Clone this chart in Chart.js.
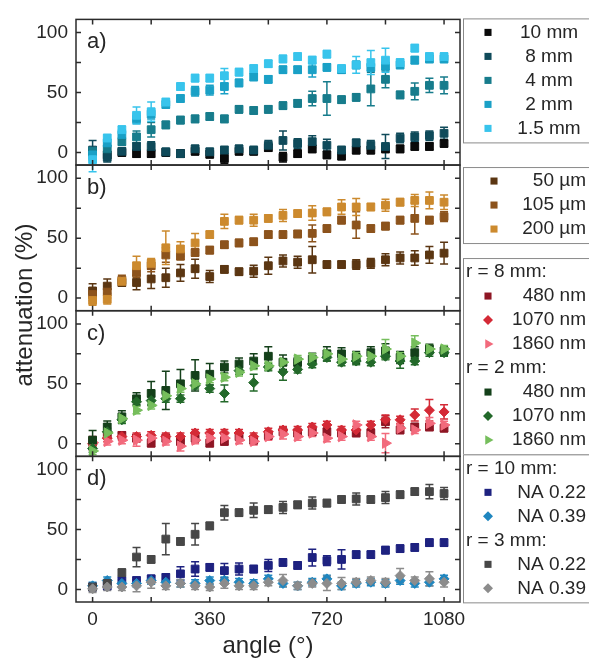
<!DOCTYPE html>
<html>
<head>
<meta charset="utf-8">
<title>attenuation vs angle</title>
<script src="https://cdn.jsdelivr.net/npm/chart.js"></script>
<style>
  body { margin: 0; background: #fff; }
</style>
</head>
<body>
<canvas id="myChart" width="589" height="658"></canvas>
<script>
// rotation angles (degrees)
const angles = [0, 45, 90, 135, 180, 225, 270, 315, 360, 405, 450, 495, 540,
                585, 630, 675, 720, 765, 810, 855, 900, 945, 990, 1035, 1080];
const xTickLabels = [0, 360, 720, 1080];
const xMinorTicks = [0, 180, 360, 540, 720, 900, 1080];
const yTickValues = [0, 25, 50, 75, 100];
const yLabelValues = [0, 50, 100];
const panelLetters = ['a)', 'b)', 'c)', 'd)'];

// a) bending radius
const radiusLabels = ['10 mm', '8 mm', '4 mm', '2 mm', '1.5 mm'];
const a10mm  = [0, -2, 0, -1, -1, 0, -1, 1, -1.5, -5, 1, 1, 4, -4, -1, 3, -2, -3, 2, 2, 3, 3, 5, 5, 7.5];
const a8mm   = [2, -4, 1, 5, 5, 0.5, -1, 3, 0.5, 2, 3, 2, 6, 10, 7.5, 9, 6, 2, 8, 6, 5, 12, 13, 14, 16];
const a4mm   = [1, 3, 9, 13, 19, 23, 27, 28, 30, 28, 36, 35, 36, 39, 41, 45, 45, 44, 46, 53, 61, 48, 51, 56, 56];
const a2mm   = [-2, 8, 15, 28, 32, 40, 45, 51, 52, 55, 58, 63, 61, 69, 69, 69, 71, 69, 73, 71, 72, 73, 77, 78, 78];
const a1_5mm = [-6, 12, 19, 31, 34, 42, 55, 62, 62, 64, 67, 70, 74, 78, 80, 77, 82, 70, 73, 75, 77, 75, 87, 80, 80];
const e10mm  = [3, 3, 3, 3, 3, 3, 3, 3, 3, 4, 3, 3, 3, 4, 3, 3, 3, 3, 3, 3, 3, 3, 3, 3, 3];
const e8mm   = [8, 4, 3, 3, 4, 3, 3, 3, 3, 3, 3, 3, 4, 8, 4, 5, 5, 3, 3, 4, 10, 4, 4, 4, 5];
const e4mm   = [3, 3, 3, 5, 6, 3, 3, 3, 3, 3, 3, 3, 3, 3, 3, 6, 14, 3, 3, 14, 7, 3, 7, 6, 7];
const e2mm   = [3, 3, 4, 4, 4, 3, 3, 4, 4, 6, 3, 3, 3, 3, 3, 6, 3, 3, 3, 3, 3, 3, 3, 3, 3];
const e1_5mm = [10, 3, 3, 7, 8, 3, 3, 3, 3, 6, 3, 3, 3, 3, 3, 3, 3, 3, 7, 10, 10, 3, 3, 3, 3];

// b) fibre diameter
const diameterLabels = ['50 µm', '105 µm', '200 µm'];
const b50  = [6, 10, 13, 13, 16, 17, 21, 24.5, 18, 24, 22, 22.5, 27, 31, 30, 32, 28, 28, 28, 29, 32, 33.5, 33.5, 36, 37.5];
const b105 = [3, 5, 15, 21, 27, 36, 35, 38, 40, 44.5, 46, 47, 53, 53, 53.5, 54, 58, 65, 61, 58, 60, 65, 66.5, 65, 68];
const b200 = [-2, -1, 14, 27, 29, 42, 41, 46, 53, 64, 65, 65, 66.5, 69, 70.5, 71, 72, 76, 76, 76, 77.5, 80, 81.5, 81.5, 80];
const e50  = [6, 6, 3, 6, 8, 8, 7, 8, 5, 3, 3, 5, 7, 5, 5, 11, 3, 3, 4, 4, 5, 5, 6, 7, 9];
const e105 = [5, 5, 4, 4, 5, 6, 3, 3, 3, 3, 3, 3, 3, 3, 3, 7, 3, 3, 11, 3, 3, 3, 13, 3, 4];
const e200 = [4, 4, 3, 8, 4, 14, 6, 8, 3, 6, 3, 5, 3, 5, 3, 6, 3, 6, 7, 3, 5, 3, 5, 7, 6];

// c) wavelength
const cHeads = ['r = 8 mm:', 'r = 2 mm:'];
const wavelengthLabels = ['480 nm', '1070 nm', '1860 nm'];
const c8_480  = [2, 7, 7, 4.7, 0.5, 4.7, 2, 4.7, 0.5, 2, 6, 3, 7, 10, 9, 10, 10, 9, 9, 9, 18.4, 11.5, 14, 14, 13];
const c8_1070 = [0, 4.7, 6, 6, 7, 6, 6, 9, 9, 9, 9, 6, 10, 11.5, 11.5, 14, 15.7, 11.5, 11.5, 15.7, 20, 20, 24, 28, 26.6];
const c8_1860 = [1, 2, 3, 3, 4.7, 2, -2, 3, 4.7, 4.7, 3, 2, 6, 8, 6, 9, 4.7, 6, 15.7, 6, 0.5, 13, 11.5, 17, 15.7];
const c2_480  = [3, 14, 22.5, 37.5, 42, 44.5, 50, 57, 58, 64, 66.5, 69, 73, 68, 68, 70.6, 75, 75, 72, 76, 77.5, 72, 76, 79, 77.5];
const c2_1070 = [-4, 10, 20, 35, 36, 37.6, 37.6, 48.6, 46, 42, 61, 51, 64, 60, 62, 66.5, 72, 68, 69, 68, 73, 69, 69, 76, 76];
const c2_1860 = [-6, 9, 21, 28, 32, 40, 46, 50, 54, 55.5, 59.6, 65, 65, 68, 70.6, 72, 75, 70.6, 73, 73, 79, 73, 84, 79, 79];
const e8_480  = [4, 3, 3, 3, 3, 3, 3, 3, 3, 3, 3, 3, 3, 3, 3, 3, 3, 3, 3, 3, 5, 3, 3, 3, 3];
const e8_1070 = [5, 3, 3, 3, 3, 3, 3, 3, 3, 3, 3, 3, 3, 3, 3, 3, 3, 3, 3, 3, 4, 3, 5, 9, 6];
const e8_1860 = [3, 3, 3, 5, 3, 3, 4, 3, 3, 3, 3, 3, 3, 4, 3, 3, 3, 3, 3, 3, 8, 3, 3, 5, 3];
const e2_480  = [8, 5, 5, 5, 10, 16, 12, 13, 9, 5, 5, 6, 8, 6, 4, 5, 6, 5, 5, 5, 6, 5, 5, 4, 4];
const e2_1070 = [3, 3, 3, 3, 3, 3, 3, 3, 3, 7, 3, 7, 3, 7, 3, 3, 3, 3, 3, 3, 3, 6, 3, 3, 3];
const e2_1860 = [3, 3, 3, 3, 3, 3, 3, 3, 3, 3, 3, 3, 3, 3, 3, 3, 3, 3, 3, 3, 8, 3, 6, 3, 3];

// d) numerical aperture
const dHeads = ['r = 10 mm:', 'r = 3 mm:'];
const apertureLabels = ['NA 0.22', 'NA 0.39'];
const d10_022 = [2, 3, 7.4, 7.4, 8.8, 10, 13, 17, 18.4, 15.7, 17, 17, 20, 22.5, 20, 26.6, 24, 25, 29, 29, 32.7, 34, 35, 39, 39];
const d10_039 = [3, 7.4, 5, 5, 7.4, 6, 5, 5, 7.4, 7.4, 6, 5, 8.8, 5, 3, 6, 8.8, 3, 5, 6, 5, 7.4, 5, 6, 8.8];
const d3_022  = [2, 5, 14, 27, 25, 42, 40, 46, 53, 64, 64, 66, 66.5, 68.4, 70.6, 72, 72, 75, 75.5, 75, 76.6, 79, 81.6, 81.6, 80];
const d3_039  = [0.5, 2, 2, 3, 6, 3, 5, 3, 2, 5, 3, 3, 6, 7.4, 3, 5, 5, 5, 6, 7.4, 6, 11.5, 7.4, 8.8, 6];
const ed10_022 = [3, 3, 3, 3, 3, 3, 6, 6, 3, 6, 5, 3, 5, 3, 3, 7, 4, 8, 3, 3, 3, 3, 3, 3, 3];
const ed10_039 = [3, 3, 3, 3, 3, 3, 3, 3, 3, 3, 3, 3, 3, 3, 3, 3, 3, 3, 3, 3, 3, 3, 3, 3, 3];
const ed3_022  = [3, 3, 3, 8, 3, 13, 3, 9, 3, 6, 3, 6, 3, 5, 3, 5, 3, 3, 5, 3, 5, 3, 3, 6, 5];
const ed3_039  = [3, 3, 3, 5, 5, 3, 3, 3, 3, 4, 3, 3, 3, 5, 3, 3, 6, 5, 3, 3, 3, 6, 3, 6, 4];

const FONT = '"Liberation Sans", Arial, sans-serif';
const TEXT = '#262626';
Chart.defaults.font.family = FONT;

const styles = {
  square:   {pointStyle: 'rect', pointRadius: 5.5, pointRotation: 0, legendRadius: 5},
  diamond:  {pointStyle: 'rectRot', pointRadius: 5, pointRotation: 0, legendRadius: 5},
  triangle: {pointStyle: 'triangle', pointRadius: 6, pointRotation: 90, legendRadius: 5.5}
};

function series(label, values, errors, color, axis, shape, box, heading) {
  const st = styles[shape];
  return {
    label: label,
    data: angles.map((a, i) => ({x: a, y: values[i]})),
    errors: errors,
    yAxisID: axis,
    backgroundColor: color,
    borderColor: color,
    pointStyle: st.pointStyle,
    pointRadius: st.pointRadius,
    pointRotation: st.pointRotation,
    pointBorderWidth: 1,
    legendRadius: st.legendRadius,
    legendBox: box,
    heading: heading || null,
    showLine: false
  };
}

const datasets = [
  series(radiusLabels[0], a10mm, e10mm, '#0a0a0a', 'ya', 'square', 0),
  series(radiusLabels[1], a8mm, e8mm, '#0f4a5a', 'ya', 'square', 0),
  series(radiusLabels[2], a4mm, e4mm, '#177c8c', 'ya', 'square', 0),
  series(radiusLabels[3], a2mm, e2mm, '#1aa0c6', 'ya', 'square', 0),
  series(radiusLabels[4], a1_5mm, e1_5mm, '#38c4ec', 'ya', 'square', 0),

  series(diameterLabels[0], b50, e50, '#5b3612', 'yb', 'square', 1),
  series(diameterLabels[1], b105, e105, '#8c531c', 'yb', 'square', 1),
  series(diameterLabels[2], b200, e200, '#cc8a2e', 'yb', 'square', 1),

  series(wavelengthLabels[0], c8_480, e8_480, '#8e1624', 'yc', 'square', 2, cHeads[0]),
  series(wavelengthLabels[1], c8_1070, e8_1070, '#d42a36', 'yc', 'diamond', 2),
  series(wavelengthLabels[2], c8_1860, e8_1860, '#f26a7c', 'yc', 'triangle', 2),
  series(wavelengthLabels[0], c2_480, e2_480, '#14401a', 'yc', 'square', 2, cHeads[1]),
  series(wavelengthLabels[1], c2_1070, e2_1070, '#23692a', 'yc', 'diamond', 2),
  series(wavelengthLabels[2], c2_1860, e2_1860, '#76be5c', 'yc', 'triangle', 2),

  series(apertureLabels[0], d10_022, ed10_022, '#1e2280', 'yd', 'square', 3, dHeads[0]),
  series(apertureLabels[1], d10_039, ed10_039, '#1f86bf', 'yd', 'diamond', 3),
  series(apertureLabels[0], d3_022, ed3_022, '#474747', 'yd', 'square', 3, dHeads[1]),
  series(apertureLabels[1], d3_039, ed3_039, '#8c8c8c', 'yd', 'diamond', 3)
];
// later series are drawn on top
datasets.forEach((ds, i) => { ds.order = -i; });

const panelIds = ['ya', 'yb', 'yc', 'yd'];

function panelScale() {
  return {
    type: 'linear', position: 'left', stack: 'panels', stackWeight: 1,
    min: -10.5, max: 111,
    afterBuildTicks: s => { s.ticks = yTickValues.map(v => ({value: v})); },
    afterFit: s => { s.width = 76; },
    grid: {display: false, drawTicks: false},
    border: {display: false},
    ticks: {
      font: {size: 19}, color: TEXT, padding: 8, autoSkip: false,
      callback: v => yLabelValues.includes(v) ? String(v) : ''
    }
  };
}

// error bars, drawn under the markers
const errorBars = {
  id: 'errorBars',
  beforeDatasetsDraw(chart) {
    const ctx = chart.ctx;
    chart.data.datasets.forEach((ds, i) => {
      const meta = chart.getDatasetMeta(i);
      const ys = chart.scales[ds.yAxisID];
      ctx.save();
      ctx.strokeStyle = ds.borderColor;
      ctx.lineWidth = 1.5;
      ctx.beginPath();
      meta.data.forEach((pt, j) => {
        const v = ds.data[j].y, e = ds.errors[j];
        const y1 = ys.getPixelForValue(v + e), y2 = ys.getPixelForValue(v - e);
        ctx.moveTo(pt.x, y1); ctx.lineTo(pt.x, y2);
        ctx.moveTo(pt.x - 4, y1); ctx.lineTo(pt.x + 4, y1);
        ctx.moveTo(pt.x - 4, y2); ctx.lineTo(pt.x + 4, y2);
      });
      ctx.stroke();
      ctx.restore();
    });
  }
};

function marker(ctx, ds, x, y) {
  const opts = {pointStyle: ds.pointStyle, rotation: ds.pointRotation, radius: ds.legendRadius, borderWidth: 0};
  ctx.fillStyle = ds.backgroundColor;
  if (Chart.helpers && Chart.helpers.drawPoint) {
    Chart.helpers.drawPoint(ctx, opts, x, y);
  }
}

// panel frames, inward ticks, panel letters, y title, legend boxes
const decorations = {
  id: 'decorations',
  afterDraw(chart) {
    const {ctx, chartArea} = chart;
    const xs = chart.scales.x;
    const L = chartArea.left, R = chartArea.right;

    panelIds.forEach((id, k) => {
      const s = chart.scales[id];
      ctx.save();
      ctx.strokeStyle = '#2b2b2b';
      ctx.lineWidth = 1.5;
      ctx.strokeRect(L, s.top, R - L, s.bottom - s.top);
      ctx.beginPath();
      xMinorTicks.forEach(v => {
        const px = xs.getPixelForValue(v);
        ctx.moveTo(px, s.top); ctx.lineTo(px, s.top + 5);
        ctx.moveTo(px, s.bottom); ctx.lineTo(px, s.bottom - 5);
      });
      yTickValues.forEach(v => {
        const py = s.getPixelForValue(v);
        ctx.moveTo(L, py); ctx.lineTo(L + 5, py);
        ctx.moveTo(R, py); ctx.lineTo(R - 5, py);
      });
      ctx.stroke();
      ctx.fillStyle = TEXT;
      ctx.font = '22px ' + FONT;
      ctx.textAlign = 'left';
      ctx.textBaseline = 'middle';
      ctx.fillText(panelLetters[k], L + 11, s.top + 23);
      ctx.restore();
    });

    // y axis title
    ctx.save();
    ctx.translate(32, 305);
    ctx.rotate(-Math.PI / 2);
    ctx.fillStyle = TEXT;
    ctx.font = '24px ' + FONT;
    ctx.textAlign = 'center';
    ctx.textBaseline = 'alphabetic';
    ctx.fillText('attenuation (%)', 0, 0);
    ctx.restore();

    // legends
    const sc = chart.scales;
    const boxes = [
      {top: sc.ya.top - 1, align: 'center', textX: 549, markerX: 488},
      {top: sc.yb.top + 2, align: 'right', textX: 586, markerX: 494},
      {top: sc.yb.top + 93, align: 'right', textX: 586, markerX: 488},
      {top: sc.yd.top - 2, align: 'right', textX: 586, markerX: 488}
    ];
    const rowH = 24;
    boxes.forEach((b, k) => {
      const rows = [];
      chart.data.datasets.forEach(ds => {
        if (ds.legendBox !== k) return;
        if (ds.heading) rows.push({heading: ds.heading});
        rows.push({ds: ds});
      });
      const h = rows.length * rowH + 4;
      ctx.save();
      ctx.fillStyle = '#fff';
      ctx.fillRect(R + 3, b.top, 200, h);
      ctx.strokeStyle = '#8a8a8a';
      ctx.lineWidth = 1;
      ctx.strokeRect(R + 3.5, b.top + 0.5, 200, h);
      ctx.font = '19px ' + FONT;
      ctx.textBaseline = 'middle';
      rows.forEach((r, i) => {
        const y = b.top + 14 + i * rowH;
        ctx.fillStyle = TEXT;
        if (r.heading) {
          ctx.textAlign = 'left';
          ctx.fillText(r.heading, R + 6, y);
        } else {
          ctx.textAlign = b.align;
          ctx.fillText(r.ds.label, b.textX, y);
          marker(ctx, r.ds, b.markerX, y);
        }
      });
      ctx.restore();
    });
  }
};

new Chart(document.getElementById('myChart'), {
  type: 'scatter',
  data: {datasets: datasets},
  options: {
    responsive: false,
    animation: false,
    events: [],
    layout: {padding: {left: 0, right: 129, top: 14, bottom: 0}},
    plugins: {legend: {display: false}, tooltip: {enabled: false}},
    scales: {
      x: {
        type: 'linear', position: 'bottom', min: -51, max: 1129,
        afterBuildTicks: s => { s.ticks = xTickLabels.map(v => ({value: v})); },
        afterFit: s => { s.height = 56; },
        grid: {display: false, drawTicks: false},
        border: {display: false},
        ticks: {font: {size: 19}, color: TEXT, padding: 6, maxRotation: 0, autoSkip: false,
                callback: v => String(v)},
        title: {display: true, text: 'angle (°)', font: {size: 24, lineHeight: 1}, color: TEXT, padding: {top: 0, bottom: 0}}
      },
      yd: panelScale(),
      yc: panelScale(),
      yb: panelScale(),
      ya: panelScale()
    }
  },
  plugins: [errorBars, decorations]
});
</script>
</body>
</html>
